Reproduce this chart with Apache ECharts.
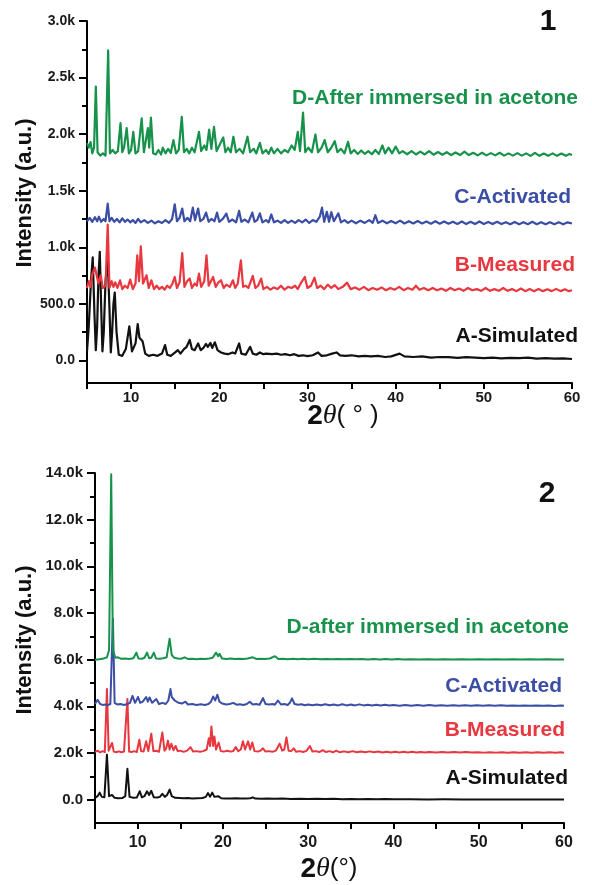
<!DOCTYPE html>
<html>
<head>
<meta charset="utf-8">
<script src="https://cdn.jsdelivr.net/npm/echarts@6/dist/echarts.min.js"></script>
<style>
  html, body { margin: 0; padding: 0; background: #fff; }
  #chart { width: 592px; height: 885px; }
</style>
</head>
<body>
<div id="chart"></div>
<script>
// Powder XRD patterns, two samples (panel 1 and panel 2); each trace is [2θ, intensity]
const seriesNames = ['A-Simulated', 'B-Measured', 'C-Activated', 'D-After immersed in acetone'];
const seriesNames2 = ['A-Simulated', 'B-Measured', 'C-Activated', 'D-after immersed in acetone'];

// Panel 1 y-axis ticks
const yTicksTop = [0, 500, 1000, 1500, 2000, 2500, 3000];
const yMinorTop = [250, 750, 1250, 1750, 2250, 2750];
// Panel 2 y-axis ticks
const yTicksBottom = [0, 2000, 4000, 6000, 8000, 10000, 12000, 14000];
const yMinorBottom = [1000, 3000, 5000, 7000, 9000, 11000, 13000];

// ---- Panel 1 ----
const p1Simulated = [
  [5.0, 80], [5.2, 300], [5.45, 700], [5.65, 910], [5.85, 400], [6.0, 90], [6.15, 300], [6.3, 750], [6.45, 960],
  [6.6, 500], [6.75, 80], [6.9, 250], [7.1, 700], [7.35, 900], [7.55, 450], [7.7, 70], [7.85, 250], [8.0, 500],
  [8.15, 600], [8.35, 250], [8.6, 50], [9.0, 40], [9.4, 100], [9.8, 300], [10.1, 80], [10.5, 150], [10.75, 320],
  [10.95, 200], [11.1, 210], [11.3, 170], [11.6, 60], [12.0, 40], [12.5, 50], [13.0, 40], [13.5, 60], [13.85, 135],
  [14.1, 50], [14.5, 40], [15.0, 70], [15.3, 90], [15.6, 60], [16.0, 100], [16.3, 120], [16.65, 180], [16.9, 100],
  [17.2, 90], [17.6, 150], [17.9, 90], [18.2, 110], [18.5, 145], [18.7, 120], [19.0, 155], [19.2, 110], [19.5, 160],
  [19.8, 90], [20.2, 70], [20.6, 60], [21.0, 55], [21.5, 70], [21.8, 60], [22.25, 150], [22.5, 60], [23.0, 50],
  [23.5, 120], [23.8, 60], [24.2, 50], [24.6, 70], [25.0, 55], [25.3, 60], [26.0, 55], [26.5, 60], [27.0, 50],
  [27.5, 55], [28.0, 45], [28.5, 55], [29.0, 40], [29.5, 45], [30.0, 38], [30.6, 45], [31.2, 70], [31.6, 40],
  [32.2, 45], [32.8, 60], [33.3, 70], [33.7, 45], [34.3, 40], [35.0, 45], [35.8, 35], [36.5, 40], [37.2, 35],
  [38.0, 40], [38.8, 30], [39.5, 35], [40.45, 60], [41.0, 35], [42.0, 30], [43.0, 35], [44.0, 25], [45.0, 30],
  [46.0, 28], [47.0, 22], [48.0, 28], [49.0, 25], [50.0, 20], [51.0, 25], [52.0, 18], [53.0, 22], [54.0, 20],
  [55.0, 25], [56.0, 15], [57.0, 20], [58.0, 15], [59.0, 18], [60.0, 12]
];
const p1Measured = [
  [5.0, 640], [5.2, 700], [5.4, 650], [5.6, 760], [5.9, 820], [6.1, 826], [6.3, 680], [6.55, 752], [6.8, 640],
  [7.1, 660], [7.35, 1200], [7.55, 640], [7.8, 700], [8.0, 650], [8.2, 690], [8.45, 640], [8.75, 708], [9.0, 630],
  [9.3, 660], [9.6, 640], [9.9, 714], [10.2, 630], [10.5, 680], [10.7, 929], [10.9, 700], [11.1, 1009], [11.35, 680],
  [11.75, 752], [12.0, 640], [12.3, 708], [12.6, 630], [12.9, 660], [13.2, 630], [13.5, 650], [13.8, 625],
  [14.1, 660], [14.4, 640], [14.7, 680], [14.95, 737], [15.2, 640], [15.5, 690], [15.8, 949], [16.05, 650],
  [16.35, 700], [16.65, 723], [16.9, 640], [17.2, 680], [17.45, 660], [17.7, 767], [17.95, 650], [18.3, 700],
  [18.55, 929], [18.8, 660], [19.05, 700], [19.3, 737], [19.6, 650], [19.9, 690], [20.2, 708], [20.5, 640],
  [20.8, 670], [21.2, 650], [21.55, 708], [21.8, 640], [22.1, 680], [22.45, 885], [22.7, 650], [23.0, 660],
  [23.3, 640], [23.8, 746], [24.1, 640], [24.4, 660], [24.75, 723], [25.0, 630], [25.4, 650], [25.8, 625],
  [26.2, 645], [26.6, 630], [27.0, 660], [27.4, 625], [27.8, 650], [28.2, 640], [28.6, 660], [28.9, 630],
  [29.3, 690], [29.7, 737], [30.0, 640], [30.4, 660], [30.8, 731], [31.1, 640], [31.5, 660], [31.9, 630],
  [32.3, 670], [32.7, 640], [33.1, 665], [33.5, 630], [34.0, 650], [34.5, 687], [34.9, 630], [35.4, 645],
  [35.9, 625], [36.4, 650], [36.9, 620], [37.4, 640], [37.9, 625], [38.4, 645], [38.9, 620], [39.4, 640],
  [39.9, 625], [40.4, 650], [40.9, 620], [41.4, 640], [41.9, 625], [42.3, 660], [42.7, 625], [43.2, 640],
  [43.7, 620], [44.2, 640], [44.7, 620], [45.2, 635], [45.7, 615], [46.2, 640], [46.7, 620], [47.2, 635],
  [47.7, 615], [48.2, 640], [48.7, 620], [49.2, 630], [49.7, 615], [50.2, 640], [50.7, 615], [51.2, 630],
  [51.7, 615], [52.2, 640], [52.7, 615], [53.2, 630], [53.7, 612], [54.2, 635], [54.7, 612], [55.2, 630],
  [55.7, 612], [56.2, 630], [56.7, 612], [57.2, 628], [57.7, 612], [58.2, 632], [58.7, 612], [59.2, 628],
  [59.6, 612], [60.0, 620]
];
const p1Activated = [
  [5.0, 1230], [5.3, 1260], [5.6, 1225], [5.9, 1265], [6.15, 1230], [6.35, 1270], [6.6, 1225], [6.9, 1250],
  [7.1, 1230], [7.35, 1385], [7.55, 1230], [7.8, 1260], [8.1, 1225], [8.4, 1250], [8.7, 1220], [9.0, 1255],
  [9.3, 1225], [9.6, 1245], [9.9, 1220], [10.2, 1240], [10.5, 1215], [10.8, 1250], [11.1, 1220], [11.5, 1240],
  [11.9, 1215], [12.3, 1235], [12.7, 1212], [13.1, 1230], [13.5, 1215], [13.9, 1240], [14.3, 1215], [14.65, 1250],
  [14.95, 1380], [15.2, 1230], [15.5, 1260], [15.8, 1342], [16.05, 1230], [16.4, 1260], [16.7, 1230], [17.0, 1350],
  [17.25, 1240], [17.6, 1342], [17.85, 1230], [18.2, 1250], [18.5, 1306], [18.8, 1225], [19.1, 1250], [19.45, 1230],
  [19.75, 1306], [20.0, 1225], [20.4, 1250], [20.8, 1298], [21.1, 1225], [21.5, 1245], [21.9, 1220], [22.25, 1321],
  [22.5, 1225], [22.9, 1245], [23.3, 1220], [23.75, 1306], [24.0, 1225], [24.3, 1240], [24.6, 1300], [24.9, 1220],
  [25.3, 1240], [25.6, 1220], [25.9, 1290], [26.2, 1220], [26.6, 1235], [27.0, 1215], [27.4, 1240], [27.8, 1215],
  [28.2, 1235], [28.6, 1215], [29.0, 1240], [29.4, 1220], [29.8, 1245], [30.2, 1215], [30.6, 1240], [31.0, 1225],
  [31.4, 1270], [31.65, 1350], [31.9, 1225], [32.2, 1313], [32.45, 1225], [32.7, 1310], [33.0, 1230], [33.5, 1300],
  [33.8, 1220], [34.2, 1240], [34.6, 1215], [35.0, 1235], [35.5, 1212], [36.0, 1235], [36.5, 1215], [37.0, 1240],
  [37.4, 1215], [37.7, 1283], [38.0, 1215], [38.5, 1235], [39.0, 1212], [39.5, 1232], [40.0, 1212], [40.5, 1235],
  [41.0, 1210], [41.5, 1230], [42.0, 1210], [42.5, 1232], [43.0, 1210], [43.5, 1228], [44.0, 1208], [44.5, 1230],
  [45.0, 1208], [45.5, 1228], [46.0, 1208], [46.5, 1226], [47.0, 1206], [47.5, 1228], [48.0, 1206], [48.5, 1225],
  [49.0, 1205], [49.5, 1228], [50.0, 1206], [50.5, 1224], [51.0, 1205], [51.5, 1225], [52.0, 1205], [52.5, 1222],
  [53.0, 1204], [53.5, 1224], [54.0, 1204], [54.5, 1222], [55.0, 1204], [55.5, 1225], [56.0, 1204], [56.5, 1222],
  [57.0, 1203], [57.5, 1222], [58.0, 1203], [58.5, 1220], [59.0, 1203], [59.5, 1220], [60.0, 1210]
];
const p1Acetone = [
  [5.0, 1920], [5.2, 1880], [5.4, 1930], [5.6, 1830], [5.8, 1880], [6.0, 2420], [6.2, 1840], [6.5, 1810],
  [6.8, 1830], [7.1, 1810], [7.4, 2740], [7.6, 1830], [7.9, 1860], [8.2, 1830], [8.5, 1850], [8.8, 2097],
  [9.0, 1840], [9.2, 1880], [9.5, 2053], [9.75, 1830], [10.0, 1860], [10.25, 2020], [10.5, 1830], [10.8, 1850],
  [11.2, 2139], [11.45, 1840], [11.9, 2053], [12.05, 1880], [12.25, 2147], [12.5, 1830], [12.8, 1820], [13.1, 1860],
  [13.4, 1820], [13.6, 1880], [13.9, 1830], [14.2, 1870], [14.5, 1835], [14.8, 1947], [15.1, 1830], [15.4, 1860],
  [15.75, 2153], [16.0, 1840], [16.3, 1870], [16.6, 1830], [16.9, 1880], [17.2, 1840], [17.7, 2020], [17.95, 1850],
  [18.3, 1900], [18.55, 1860], [18.85, 2040], [19.1, 1870], [19.4, 2065], [19.7, 1850], [20.0, 1900], [20.45, 1970],
  [20.7, 1840], [21.0, 1880], [21.3, 1840], [21.6, 1977], [21.9, 1840], [22.3, 1870], [22.7, 1830], [23.2, 1977],
  [23.5, 1840], [23.9, 1870], [24.2, 1830], [24.6, 1923], [24.9, 1830], [25.3, 1860], [25.6, 1825], [25.9, 1880],
  [26.2, 1830], [26.6, 1870], [27.0, 1830], [27.4, 1860], [27.8, 1840], [28.2, 1900], [28.55, 1860], [28.9, 2020],
  [29.15, 1850], [29.5, 2190], [29.75, 1840], [30.1, 1880], [30.5, 1840], [30.9, 1997], [31.2, 1840], [31.6, 1880],
  [31.95, 1947], [32.3, 1840], [32.7, 1880], [33.1, 1938], [33.4, 1840], [33.8, 1870], [34.2, 1830], [34.6, 1932],
  [34.9, 1830], [35.3, 1860], [35.7, 1825], [36.1, 1855], [36.5, 1825], [36.9, 1850], [37.3, 1822], [37.7, 1860],
  [38.1, 1825], [38.5, 1900], [38.8, 1830], [39.2, 1880], [39.6, 1830], [40.0, 1890], [40.4, 1830], [40.8, 1850],
  [41.3, 1822], [41.8, 1850], [42.3, 1820], [42.8, 1845], [43.3, 1820], [43.8, 1850], [44.3, 1818], [44.8, 1842],
  [45.3, 1818], [45.8, 1840], [46.3, 1815], [46.8, 1838], [47.3, 1815], [47.8, 1845], [48.3, 1815], [48.8, 1835],
  [49.3, 1812], [49.8, 1835], [50.3, 1812], [50.8, 1832], [51.3, 1812], [51.8, 1835], [52.3, 1810], [52.8, 1830],
  [53.3, 1810], [53.8, 1832], [54.3, 1810], [54.8, 1830], [55.3, 1808], [55.8, 1835], [56.3, 1808], [56.8, 1828],
  [57.3, 1808], [57.8, 1830], [58.3, 1808], [58.8, 1828], [59.3, 1808], [59.7, 1825], [60.0, 1815]
];

// ---- Panel 2 ----
const p2Simulated = [
  [5.0, 80], [5.3, 150], [5.55, 300], [5.8, 120], [6.1, 100], [6.4, 1930], [6.65, 150], [7.0, 200], [7.3, 80],
  [7.7, 60], [8.2, 70], [8.55, 150], [8.8, 1320], [9.05, 120], [9.5, 80], [9.9, 90], [10.25, 360], [10.5, 100],
  [10.8, 150], [11.1, 360], [11.35, 200], [11.6, 380], [11.9, 100], [12.3, 90], [12.6, 120], [12.9, 250],
  [13.2, 120], [13.45, 200], [13.75, 430], [14.0, 150], [14.4, 80], [14.9, 70], [15.4, 60], [15.9, 70], [16.4, 50],
  [17.0, 60], [17.6, 70], [18.0, 120], [18.25, 285], [18.5, 130], [18.75, 300], [19.0, 120], [19.45, 150],
  [19.8, 60], [20.3, 50], [20.9, 45], [21.5, 60], [22.1, 45], [22.7, 55], [23.2, 60], [23.5, 100], [23.8, 45],
  [24.5, 40], [25.2, 55], [26.0, 35], [27.0, 50], [28.0, 30], [29.0, 40], [30.0, 25], [31.0, 40], [32.0, 25],
  [33.0, 35], [34.0, 20], [35.0, 30], [36.0, 20], [37.0, 25], [38.0, 15], [39.0, 25], [40.0, 15], [42.0, 20],
  [44.0, 10], [46.0, 15], [48.0, 10], [50.0, 12], [52.0, 8], [54.0, 10], [56.0, 5], [58.0, 8], [60.0, 5]
];
const p2Measured = [
  [5.0, 2050], [5.3, 2100], [5.6, 2030], [5.9, 2080], [6.15, 2040], [6.4, 4740], [6.6, 2100], [6.8, 2050],
  [7.0, 2430], [7.2, 2060], [7.5, 2030], [7.8, 2070], [8.1, 2030], [8.4, 2060], [8.6, 2040], [8.8, 4310],
  [9.0, 2060], [9.3, 2040], [9.6, 2080], [9.9, 2040], [10.2, 2570], [10.4, 2080], [10.7, 2060], [11.0, 2500],
  [11.25, 2080], [11.6, 2830], [11.85, 2080], [12.2, 2100], [12.5, 2050], [12.9, 2880], [13.15, 2100], [13.35, 2200],
  [13.55, 2530], [13.75, 2150], [13.95, 2400], [14.2, 2120], [14.45, 2300], [14.7, 2080], [15.0, 2100], [15.4, 2050],
  [15.8, 2100], [16.2, 2250], [16.5, 2060], [16.9, 2080], [17.3, 2050], [17.7, 2080], [18.1, 2150], [18.35, 2630],
  [18.5, 2300], [18.65, 3140], [18.85, 2300], [19.0, 2710], [19.2, 2150], [19.5, 2450], [19.75, 2080], [20.1, 2060],
  [20.5, 2100], [20.9, 2060], [21.2, 2080], [21.5, 2250], [21.8, 2080], [22.1, 2150], [22.35, 2500], [22.6, 2150],
  [22.95, 2500], [23.2, 2150], [23.45, 2450], [23.7, 2080], [24.1, 2060], [24.4, 2100], [24.7, 2200], [25.0, 2060],
  [25.4, 2080], [25.8, 2050], [26.2, 2100], [26.65, 2400], [26.95, 2100], [27.2, 2150], [27.45, 2670], [27.7, 2100],
  [28.0, 2080], [28.3, 2200], [28.6, 2050], [29.0, 2080], [29.4, 2040], [29.8, 2090], [30.2, 2300], [30.5, 2060],
  [30.9, 2080], [31.3, 2040], [31.7, 2120], [32.1, 2040], [32.5, 2080], [32.9, 2030], [33.3, 2100], [33.7, 2030],
  [34.2, 2070], [34.7, 2030], [35.2, 2080], [35.7, 2030], [36.2, 2060], [36.7, 2030], [37.2, 2070], [37.7, 2030],
  [38.2, 2060], [38.7, 2025], [39.2, 2055], [39.7, 2025], [40.2, 2050], [40.7, 2025], [41.2, 2050], [41.7, 2020],
  [42.2, 2050], [42.7, 2020], [43.2, 2045], [43.7, 2020], [44.2, 2045], [45.0, 2020], [45.7, 2040], [46.4, 2020],
  [47.1, 2040], [47.8, 2018], [48.5, 2038], [49.2, 2018], [49.9, 2036], [50.6, 2016], [51.3, 2035], [52.0, 2016],
  [52.7, 2034], [53.4, 2015], [54.1, 2034], [54.8, 2015], [55.5, 2032], [56.2, 2014], [56.9, 2030], [57.6, 2014],
  [58.3, 2030], [59.0, 2012], [59.6, 2028], [60.0, 2015]
];
const p2Activated = [
  [5.0, 4100], [5.3, 4280], [5.6, 4100], [5.9, 4060], [6.2, 4080], [6.5, 4050], [6.8, 4100], [7.1, 7750],
  [7.3, 4150], [7.6, 4080], [8.0, 4100], [8.4, 4060], [8.8, 4100], [9.1, 4150], [9.4, 4450], [9.7, 4150],
  [10.05, 4400], [10.3, 4150], [10.6, 4200], [11.0, 4400], [11.2, 4200], [11.4, 4380], [11.7, 4150], [12.2, 4310],
  [12.5, 4100], [12.9, 4150], [13.3, 4100], [13.6, 4250], [13.85, 4740], [14.0, 4400], [14.15, 4450], [14.35, 4250],
  [14.55, 4300], [14.8, 4150], [15.2, 4120], [15.6, 4200], [15.9, 4080], [16.4, 4100], [16.9, 4060], [17.4, 4090],
  [17.9, 4060], [18.3, 4100], [18.6, 4200], [18.85, 4420], [19.1, 4250], [19.35, 4500], [19.6, 4200], [19.9, 4120],
  [20.4, 4080], [20.8, 4100], [21.2, 4150], [21.6, 4070], [22.0, 4090], [22.4, 4060], [22.8, 4100], [23.15, 4200],
  [23.5, 4080], [23.9, 4100], [24.3, 4070], [24.7, 4350], [25.0, 4100], [25.4, 4080], [25.8, 4100], [26.1, 4070],
  [26.45, 4250], [26.8, 4080], [27.2, 4100], [27.6, 4060], [27.85, 4150], [28.1, 4340], [28.4, 4100], [28.8, 4070],
  [29.2, 4090], [29.6, 4050], [30.0, 4080], [30.5, 4045], [31.0, 4080], [31.5, 4045], [32.0, 4090], [32.5, 4045],
  [33.0, 4075], [33.5, 4040], [34.0, 4090], [34.5, 4040], [35.0, 4075], [35.5, 4040], [36.0, 4085], [36.5, 4040],
  [37.0, 4070], [37.5, 4035], [38.0, 4065], [38.5, 4035], [39.0, 4070], [39.5, 4035], [40.0, 4060], [40.7, 4030],
  [41.4, 4060], [42.1, 4030], [42.8, 4058], [43.5, 4030], [44.2, 4055], [44.9, 4028], [45.6, 4050], [46.3, 4028],
  [47.0, 4050], [47.7, 4025], [48.4, 4048], [49.1, 4025], [49.8, 4046], [50.5, 4025], [51.2, 4045], [51.9, 4022],
  [52.6, 4042], [53.3, 4022], [54.0, 4040], [54.7, 4020], [55.4, 4040], [56.1, 4020], [56.8, 4038], [57.5, 4020],
  [58.2, 4036], [58.9, 4018], [59.6, 4034], [60.0, 4020]
];
const p2Acetone = [
  [5.0, 6000], [5.5, 6020], [6.0, 6050], [6.4, 6100], [6.65, 6400], [6.9, 13950], [7.1, 6400], [7.4, 6080],
  [7.7, 6100], [8.0, 6040], [8.5, 6050], [9.0, 6030], [9.5, 6060], [9.85, 6300], [10.1, 6050], [10.5, 6040],
  [10.8, 6080], [11.1, 6300], [11.35, 6060], [11.6, 6080], [11.9, 6300], [12.15, 6050], [12.6, 6040], [13.0, 6060],
  [13.4, 6100], [13.75, 6900], [14.0, 6200], [14.3, 6080], [14.7, 6050], [15.1, 6040], [15.5, 6100], [15.9, 6030],
  [16.4, 6040], [16.9, 6020], [17.4, 6040], [17.9, 6030], [18.4, 6050], [18.8, 6080], [19.2, 6300], [19.45, 6150],
  [19.6, 6250], [19.9, 6050], [20.4, 6030], [20.9, 6050], [21.4, 6025], [21.9, 6040], [22.4, 6025], [22.9, 6050],
  [23.5, 6100], [23.9, 6030], [24.4, 6040], [24.9, 6025], [25.5, 6050], [26.1, 6150], [26.5, 6030], [27.0, 6040],
  [27.6, 6020], [28.2, 6040], [28.8, 6020], [29.4, 6035], [30.0, 6018], [30.7, 6035], [31.4, 6018], [32.1, 6032],
  [32.8, 6015], [33.5, 6030], [34.2, 6015], [34.9, 6028], [35.6, 6015], [36.3, 6028], [37.0, 6012], [37.7, 6026],
  [38.4, 6012], [39.1, 6025], [39.8, 6012], [40.5, 6024], [41.2, 6010], [42.0, 6022], [43.0, 6010], [44.0, 6020],
  [45.0, 6008], [46.0, 6020], [47.0, 6008], [48.0, 6018], [49.0, 6008], [50.0, 6018], [51.0, 6006], [52.0, 6016],
  [53.0, 6006], [54.0, 6016], [55.0, 6005], [56.0, 6015], [57.0, 6005], [58.0, 6014], [59.0, 6005], [60.0, 6010]
];

const COLORS = ['#111111', '#e8373e', '#3a4ea6', '#17924b'];
const FONT = '"Liberation Sans", Arial, sans-serif';

function fmtK(v) {
  return v >= 1000 ? (v / 1000).toFixed(1) + 'k' : v.toFixed(1);
}

function xAxisFor(gridIndex, fontSize, margin) {
  return {
    type: 'value', gridIndex, min: 5, max: 60, interval: 5,
    axisLine: { show: true, onZero: false, lineStyle: { color: '#000', width: 2 } },
    axisTick: { show: true, inside: false, length: 6, lineStyle: { color: '#000', width: 2 } },
    axisLabel: {
      formatter: v => (v % 10 === 0 ? String(v) : ''),
      fontFamily: FONT, fontWeight: 'bold', fontSize, color: '#1a1a1a', margin
    },
    splitLine: { show: false }
  };
}

function yAxesFor(gridIndex, min, max, major, minor, fontSize) {
  return [
    {
      type: 'value', gridIndex, min, max, position: 'left',
      axisLine: { show: true, onZero: false, lineStyle: { color: '#000', width: 2 } },
      axisTick: { show: true, customValues: major, length: 8, lineStyle: { color: '#000', width: 2 } },
      axisLabel: {
        customValues: major, formatter: fmtK,
        fontFamily: FONT, fontWeight: 'bold', fontSize, color: '#1a1a1a', margin: 12
      },
      splitLine: { show: false }
    },
    {
      // short minor ticks between the labelled ones
      type: 'value', gridIndex, min, max, position: 'left', offset: 0,
      axisLine: { show: false, onZero: false },
      axisTick: { show: true, customValues: minor, length: 5, lineStyle: { color: '#000', width: 2 } },
      axisLabel: { show: false },
      splitLine: { show: false }
    }
  ];
}

const yPanel1 = yAxesFor(0, -200, 3000, yTicksTop, yMinorTop, 14);
const yPanel2 = yAxesFor(1, -1000, 14000, yTicksBottom, yMinorBottom, 15);

function line(data, xi, yi, color, width) {
  return {
    type: 'line', xAxisIndex: xi, yAxisIndex: yi, data,
    showSymbol: false, symbol: 'none', smooth: false, clip: true,
    lineStyle: { color, width, join: 'round' }, silent: true
  };
}

function label(text, x, y, color, align) {
  return {
    type: 'text', x, y, silent: true,
    style: { text, fill: color, font: 'bold 21px ' + FONT, textAlign: align || 'right', textVerticalAlign: 'middle' }
  };
}

function thetaTitle(x, y, spaced) {
  return {
    type: 'text', x, y, silent: true,
    style: {
      text: '{n|2}{t|θ}{p|' + (spaced ? '( ° )' : '(°)') + '}',
      textAlign: 'center', textVerticalAlign: 'middle',
      rich: {
        n: { font: 'bold 28px ' + FONT, fill: '#111' },
        t: { font: 'italic 28px "Liberation Serif", serif', fill: '#111' },
        p: { font: '26px ' + FONT, fill: '#111' }
      }
    }
  };
}

const chart = echarts.init(document.getElementById('chart'), null, { renderer: 'canvas' });
chart.setOption({
  animation: false,
  backgroundColor: '#fff',
  grid: [
    { left: 87, top: 21, width: 485, height: 362 },
    { left: 95, top: 473, width: 469, height: 350 }
  ],
  xAxis: [xAxisFor(0, 15, 7), xAxisFor(1, 16, 12)],
  yAxis: [yPanel1[0], yPanel1[1], yPanel2[0], yPanel2[1]],
  series: [
    line(p1Simulated, 0, 0, COLORS[0], 2.2),
    line(p1Measured, 0, 0, COLORS[1], 2.2),
    line(p1Activated, 0, 0, COLORS[2], 2.2),
    line(p1Acetone, 0, 0, COLORS[3], 2.2),
    line(p2Simulated, 1, 2, COLORS[0], 2),
    line(p2Measured, 1, 2, COLORS[1], 2),
    line(p2Activated, 1, 2, COLORS[2], 2),
    line(p2Acetone, 1, 2, COLORS[3], 2)
  ],
  graphic: [
    // panel 1 annotations
    { type: 'text', x: 548, y: 22, silent: true,
      style: { text: '1', font: 'bold 30px ' + FONT, fill: '#111', textAlign: 'center', textVerticalAlign: 'middle' } },
    label(seriesNames[3], 578, 98, COLORS[3]),
    label(seriesNames[2], 571, 197, COLORS[2]),
    label(seriesNames[1], 575, 265, COLORS[1]),
    label(seriesNames[0], 578, 336, '#111'),
    { type: 'text', x: 25, y: 193, rotation: Math.PI / 2, silent: true,
      style: { text: 'Intensity (a.u.)', font: 'bold 22px ' + FONT, fill: '#111', textAlign: 'center', textVerticalAlign: 'middle' } },
    thetaTitle(343, 416, true),
    // panel 2 annotations
    { type: 'text', x: 547, y: 494, silent: true,
      style: { text: '2', font: 'bold 30px ' + FONT, fill: '#111', textAlign: 'center', textVerticalAlign: 'middle' } },
    label(seriesNames2[3], 569, 627, COLORS[3]),
    label(seriesNames2[2], 562, 686, COLORS[2]),
    label(seriesNames2[1], 565, 730, COLORS[1]),
    label(seriesNames2[0], 568, 778, '#111'),
    { type: 'text', x: 25, y: 640, rotation: Math.PI / 2, silent: true,
      style: { text: 'Intensity (a.u.)', font: 'bold 22px ' + FONT, fill: '#111', textAlign: 'center', textVerticalAlign: 'middle' } },
    thetaTitle(329, 869, false)
  ]
});
</script>
</body>
</html>
